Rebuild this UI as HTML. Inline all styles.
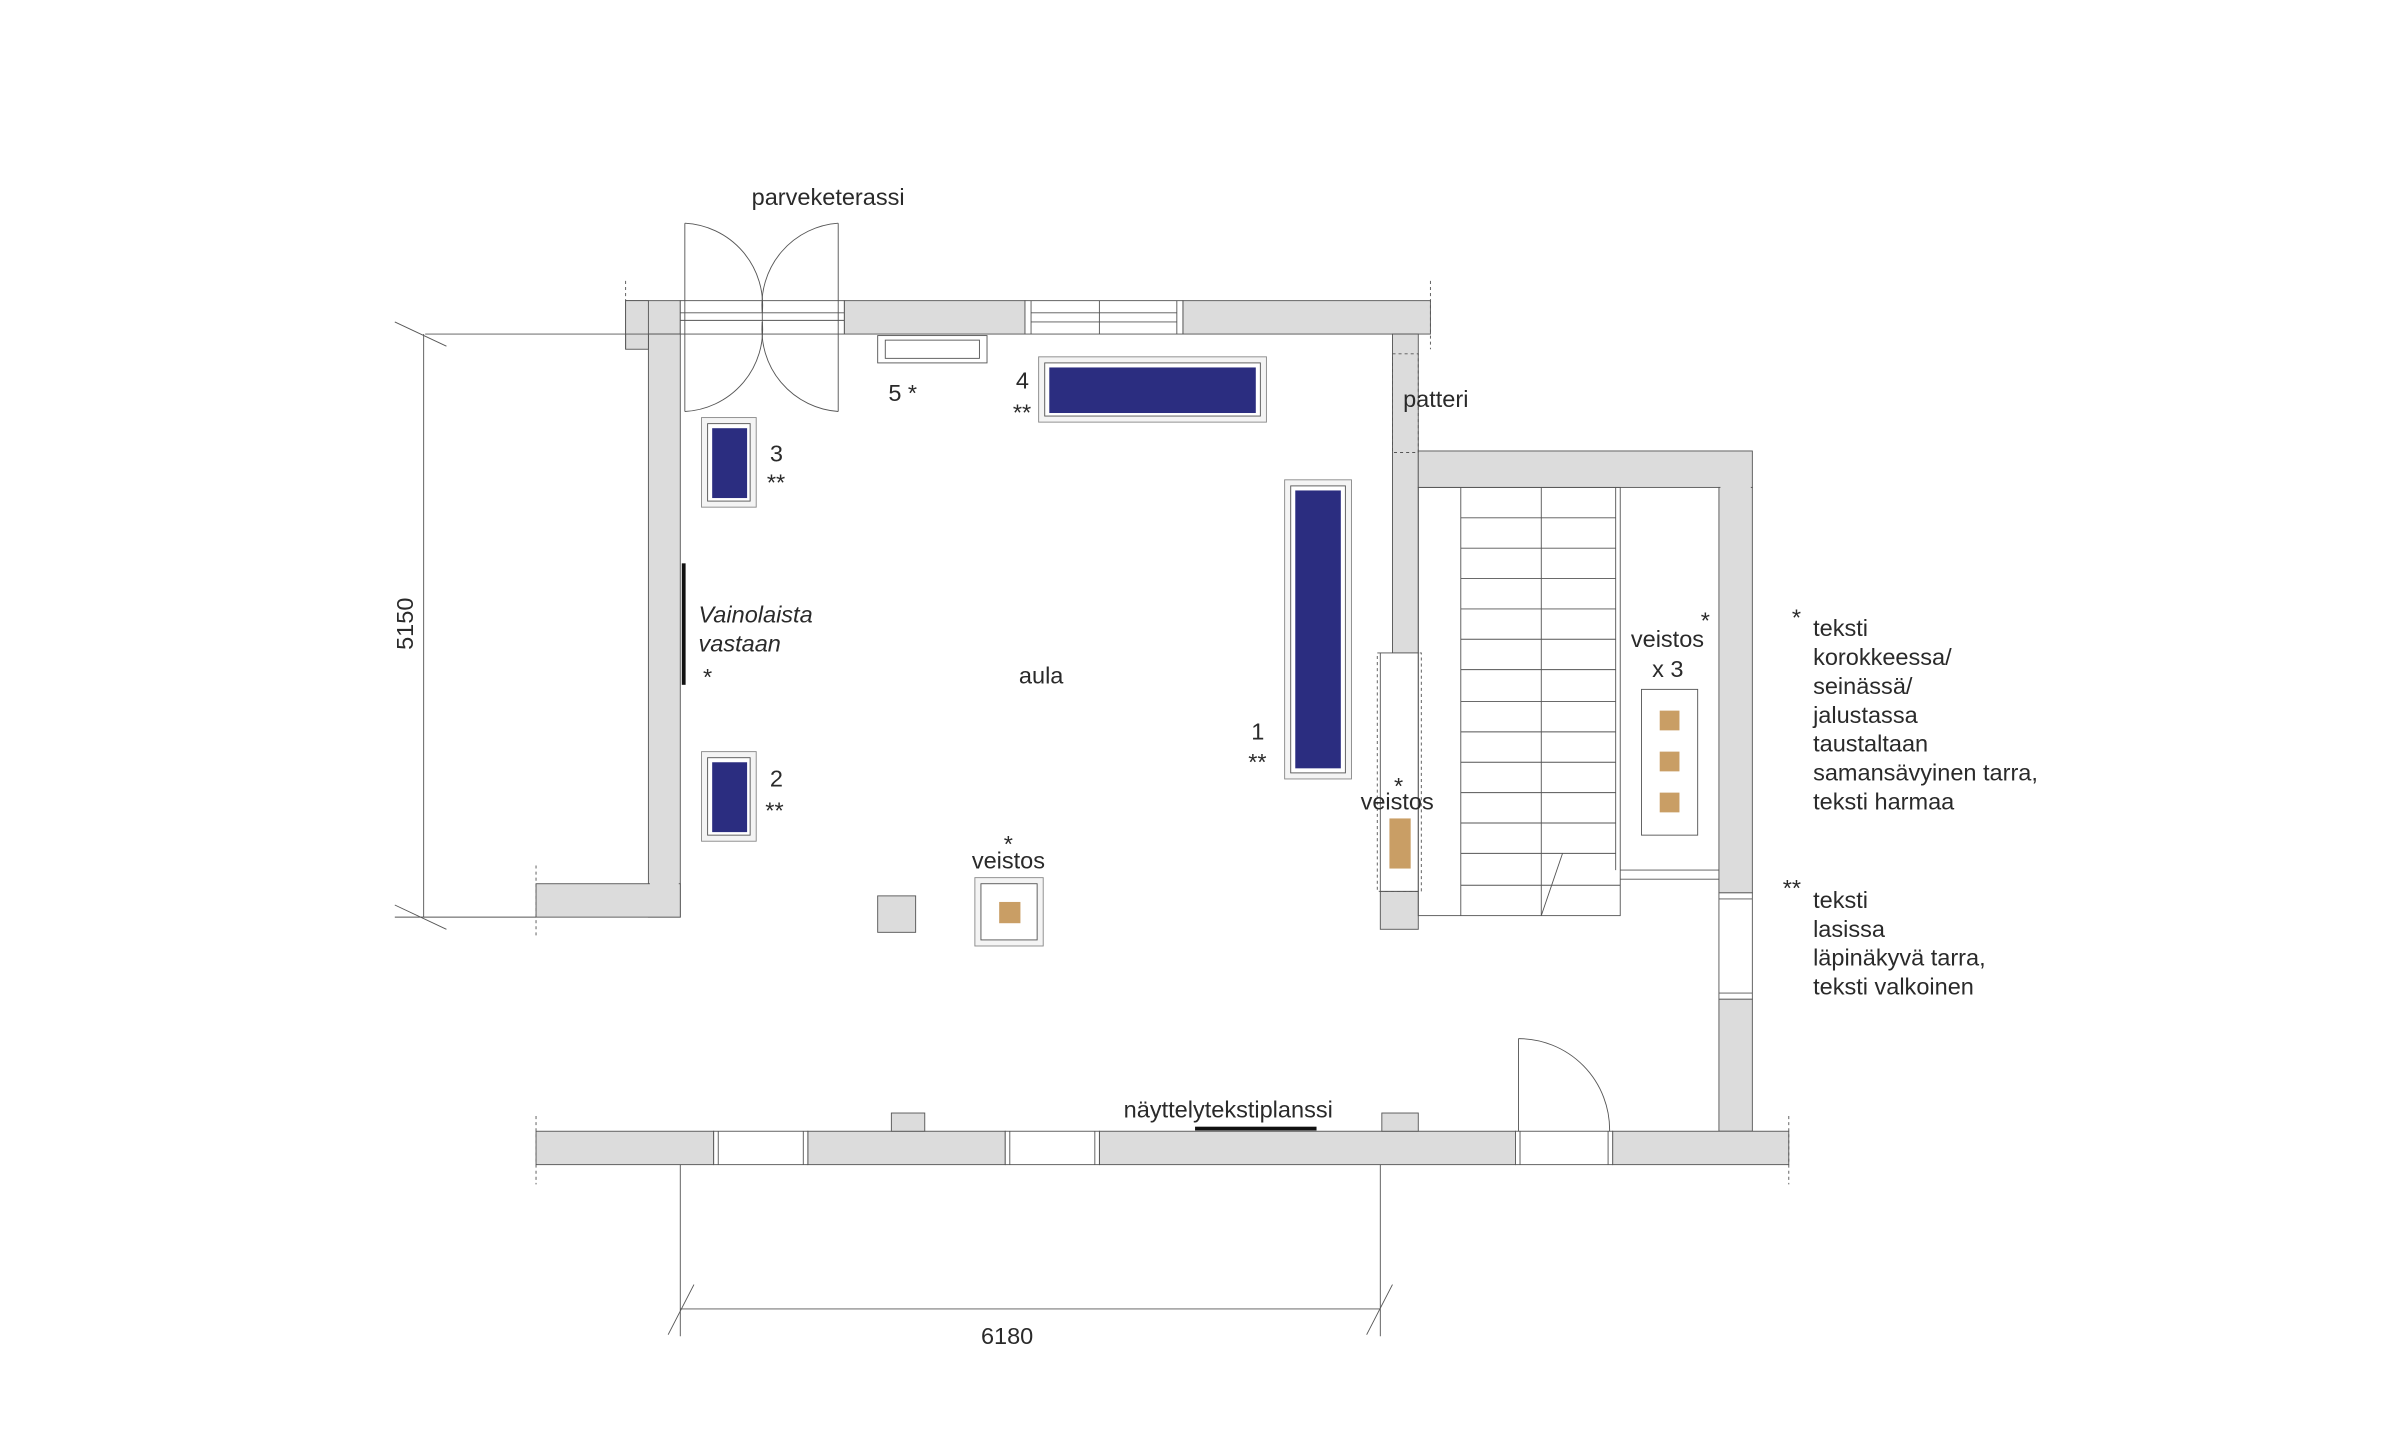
<!DOCTYPE html>
<html><head><meta charset="utf-8"><style>
html,body{margin:0;padding:0;background:#fff;}
svg{display:block;}
text{font-family:"Liberation Sans",sans-serif;fill:#2a2a2a;font-size:15.5px;}
</style></head><body>
<svg width="2381" height="1441" viewBox="0 0 1568 949" preserveAspectRatio="none" xmlns="http://www.w3.org/2000/svg">
<g stroke="#555" stroke-width="0.6" fill="#dcdcdc">
<rect x="412" y="198" width="36" height="22"/>
<rect x="556" y="198" width="119" height="22"/>
<rect x="779" y="198" width="163" height="22"/>
<rect x="427" y="220" width="21" height="384"/>
<rect x="412" y="198" width="15" height="32"/>
<rect x="353" y="582" width="95" height="22"/>
<rect x="917" y="220" width="17" height="210"/>
<rect x="909" y="587" width="25" height="25"/>
<rect x="934" y="297" width="220" height="24"/>
<rect x="1132" y="321" width="22" height="267"/>
<rect x="1132" y="658" width="22" height="87"/>
<rect x="353" y="745" width="117" height="22"/>
<rect x="532" y="745" width="130" height="22"/>
<rect x="724" y="745" width="274" height="22"/>
<rect x="1062" y="745" width="116" height="22"/>
<rect x="587" y="733" width="22" height="12"/>
<rect x="910" y="733" width="24" height="12"/>
</g>
<rect x="428" y="221" width="19" height="382" fill="#dcdcdc"/>
<rect x="354" y="583" width="80" height="20" fill="#dcdcdc"/>
<rect x="1133" y="298" width="20" height="24" fill="#dcdcdc"/>
<rect x="918" y="221" width="15" height="78" fill="#dcdcdc"/>
<g stroke="#555" stroke-width="0.6" fill="none">
<line x1="280" y1="220" x2="427" y2="220"/>
<line x1="412" y1="220" x2="412" y2="230"/>
<rect x="448" y="198" width="108" height="22" fill="#fff"/>
<line x1="448" y1="206" x2="556" y2="206"/><line x1="448" y1="211" x2="556" y2="211"/>
<rect x="675" y="198" width="104" height="22" fill="#fff"/>
<line x1="679" y1="198" x2="679" y2="220"/><line x1="775" y1="198" x2="775" y2="220"/>
<line x1="679" y1="206" x2="775" y2="206"/><line x1="679" y1="212" x2="775" y2="212"/>
<line x1="724" y1="198" x2="724" y2="220"/>
<line x1="451" y1="147" x2="451" y2="271"/>
<line x1="552" y1="147" x2="552" y2="271"/>
<path d="M451 147 A54 54 0 0 1 502 206"/><path d="M552 147 A54 54 0 0 0 502 206"/>
<path d="M451 271 A54 54 0 0 0 502 212"/><path d="M552 271 A54 54 0 0 1 502 212"/>
<line x1="502" y1="198" x2="502" y2="220"/>
<g stroke-dasharray="2,2"><line x1="412" y1="185" x2="412" y2="198"/><line x1="942" y1="185" x2="942" y2="230"/>
<rect x="917" y="233" width="17" height="65"/>
<rect x="907" y="430" width="29" height="157"/>
<line x1="353" y1="570" x2="353" y2="618"/><line x1="353" y1="735" x2="353" y2="780"/>
<line x1="1178" y1="735" x2="1178" y2="780"/></g>
<rect x="909" y="430" width="25" height="157" fill="#fff"/>
<rect x="934" y="321" width="133" height="282"/>
<line x1="962" y1="321" x2="962" y2="603"/><line x1="1015" y1="321" x2="1015" y2="603"/>
<line x1="1064" y1="321" x2="1064" y2="573"/>
<line x1="1067" y1="573" x2="1132" y2="573"/><line x1="1067" y1="579" x2="1132" y2="579"/>
<path d="M962 341H1064M962 361H1064M962 381H1064M962 401H1064M962 421H1064M962 441H1064M962 462H1064M962 482H1064M962 502H1064M962 522H1064M962 542H1064M962 562H1064M962 583H1067"/>
<line x1="1015" y1="603" x2="1029" y2="562"/>
<rect x="1132" y="588" width="22" height="70" fill="#fff"/>
<line x1="1132" y1="592" x2="1154" y2="592"/><line x1="1132" y1="654" x2="1154" y2="654"/>
<rect x="470" y="745" width="62" height="22" fill="#fff"/><line x1="473" y1="745" x2="473" y2="767"/><line x1="529" y1="745" x2="529" y2="767"/>
<rect x="662" y="745" width="62" height="22" fill="#fff"/><line x1="665" y1="745" x2="665" y2="767"/><line x1="721" y1="745" x2="721" y2="767"/>
<rect x="998" y="745" width="64" height="22" fill="#fff"/><line x1="1001" y1="745" x2="1001" y2="767"/><line x1="1059" y1="745" x2="1059" y2="767"/>
<line x1="1000" y1="684" x2="1000" y2="745"/><path d="M1000 684 A60 60 0 0 1 1060 745"/>
<line x1="279" y1="220" x2="279" y2="604"/>
<line x1="260" y1="212" x2="294" y2="228"/><line x1="260" y1="596" x2="294" y2="612"/>
<line x1="260" y1="604" x2="353" y2="604"/>
<line x1="448" y1="767" x2="448" y2="880"/><line x1="909" y1="767" x2="909" y2="880"/>
<line x1="448" y1="862" x2="909" y2="862"/>
<line x1="440" y1="879" x2="457" y2="846"/><line x1="900" y1="879" x2="917" y2="846"/>
<rect x="578" y="221" width="72" height="18"/><rect x="583" y="224" width="62" height="12"/>
<rect x="684" y="235" width="150" height="43" fill="#f4f4f4" stroke="#888"/><rect x="688" y="239" width="142" height="35" fill="#fff"/>
<rect x="462" y="275" width="36" height="59" fill="#f4f4f4" stroke="#888"/><rect x="466" y="279" width="28" height="51" fill="#fff"/>
<rect x="462" y="495" width="36" height="59" fill="#f4f4f4" stroke="#888"/><rect x="466" y="499" width="28" height="51" fill="#fff"/>
<rect x="846" y="316" width="44" height="197" fill="#f4f4f4" stroke="#888"/><rect x="850" y="320" width="36" height="189" fill="#fff"/>
<rect x="642" y="578" width="45" height="45" fill="#f4f4f4" stroke="#888"/><rect x="646" y="582" width="37" height="37" fill="#fff"/>
<rect x="578" y="590" width="25" height="24" fill="#dcdcdc"/>
<rect x="1081" y="454" width="37" height="96" fill="#fff"/>
</g>
<g fill="#2b2d80">
<rect x="691" y="242" width="136" height="30"/>
<rect x="469" y="282" width="23" height="46"/>
<rect x="469" y="502" width="23" height="46"/>
<rect x="853" y="323" width="30" height="183"/>
</g>
<g fill="#c99e65">
<rect x="658" y="594" width="14" height="14"/>
<rect x="915" y="539" width="14" height="33"/>
<rect x="1093" y="468" width="13" height="13"/><rect x="1093" y="495" width="13" height="13"/><rect x="1093" y="522" width="13" height="13"/>
</g>
<rect x="449" y="371" width="2.5" height="80" fill="#111"/>
<rect x="787" y="742" width="80" height="2.5" fill="#111"/>
<text x="495" y="135">parveketerassi</text>
<text x="585" y="264">5 *</text>
<text x="669" y="256">4</text><text x="667" y="277">**</text>
<text x="507" y="304">3</text><text x="505" y="323">**</text>
<text x="507" y="518">2</text><text x="504" y="539">**</text>
<text x="824" y="487">1</text><text x="822" y="507">**</text>
<text x="460" y="410" font-style="italic">Vainolaista</text>
<text x="460" y="429" font-style="italic">vastaan</text>
<text x="463" y="451">*</text>
<text x="671" y="450">aula</text>
<text x="924" y="268">patteri</text>
<text x="661" y="561">*</text><text x="640" y="572">veistos</text>
<text x="918" y="523">*</text><text x="896" y="533">veistos</text>
<text x="1074" y="426">veistos</text><text x="1120" y="414">*</text><text x="1088" y="446">x 3</text>
<text x="740" y="736">näyttelytekstiplanssi</text>
<text x="0" y="0" font-size="20" transform="translate(272,428) rotate(-90)">5150</text>
<text x="646" y="885" font-size="20">6180</text>
<text x="1180" y="412">*</text>
<g><text x="1194" y="419">teksti</text><text x="1194" y="438">korokkeessa/</text><text x="1194" y="457">seinässä/</text><text x="1194" y="476">jalustassa</text><text x="1194" y="495">taustaltaan</text><text x="1194" y="514">samansävyinen tarra,</text><text x="1194" y="533">teksti harmaa</text></g>
<text x="1174" y="590">**</text>
<g><text x="1194" y="598">teksti</text><text x="1194" y="617">lasissa</text><text x="1194" y="636">läpinäkyvä tarra,</text><text x="1194" y="655">teksti valkoinen</text></g>
</svg>
</body></html>
